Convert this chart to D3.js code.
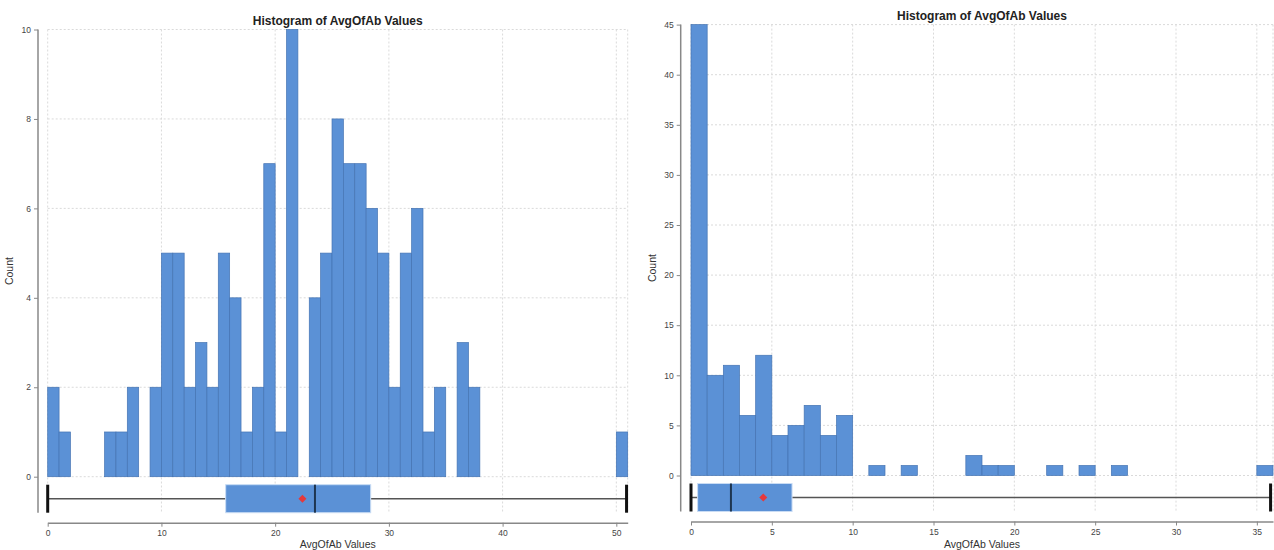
<!DOCTYPE html>
<html>
<head>
<meta charset="utf-8">
<script src="https://cdn.jsdelivr.net/npm/d3@7"></script>
<style>
  body { margin: 0; background: #fff; }
  svg { display: block; font-family: "Liberation Sans", Arial, Helvetica, sans-serif; }
</style>
</head>
<body>
<svg id="chart" width="1274" height="550"></svg>
<script>
// Counts per unit-width bin, index = bin start value
const leftBinCounts = [
  2, 1, 0, 0, 0, 1, 1, 2, 0, 2,
  5, 5, 2, 3, 2, 5, 4, 1, 2, 7,
  1, 10, 0, 4, 5, 8, 7, 7, 6, 5,
  2, 5, 6, 1, 2, 0, 3, 2, 0, 0,
  0, 0, 0, 0, 0, 0, 0, 0, 0, 0,
  1
];
const rightBinCounts = [
  45, 10, 11, 6, 12, 4, 5, 7, 4, 6,
  0, 1, 0, 1, 0, 0, 0, 2, 1, 1,
  0, 0, 1, 0, 1, 0, 1, 0, 0, 0,
  0, 0, 0, 0, 0, 1
];

// Box plot summaries: [min, q1, median, q3, max]
const leftBoxStats = [0, 15.65, 23.5, 28.4, 50.9];
const rightBoxStats = [0, 0.41, 2.47, 6.25, 35.85];
const leftMean = 22.4;
const rightMean = 4.47;

// Tick labels
const leftXTicks = [0, 10, 20, 30, 40, 50];
const leftYTicks = [0, 2, 4, 6, 8, 10];
const rightXTicks = [0, 5, 10, 15, 20, 25, 30, 35];
const rightYTicks = [0, 5, 10, 15, 20, 25, 30, 35, 40, 45];

const chartTitle = "Histogram of AvgOfAb Values";
const xTitle = "AvgOfAb Values";
const yTitle = "Count";

const BAR = "#5b91d6";
const svg = d3.select("#chart");

function drawPanel(cfg) {
  const x = d3.scaleLinear().domain([0, cfg.counts.length]).range(cfg.xRange);
  const y = d3.scaleLinear().domain([0, cfg.yMax]).range([cfg.y0, cfg.yTop]);
  const boxTop = cfg.y0 + 8, boxBot = cfg.y0 + 36, boxMid = (boxTop + boxBot) / 2;
  const axisY = cfg.y0 + 46;
  const g = svg.append("g");

  // dotted grid
  const grid = g.append("g").attr("stroke", "#dadada").attr("stroke-dasharray", "2,2").attr("stroke-width", 1);
  grid.selectAll("line.h").data(cfg.yTicks).join("line").attr("class", "h")
    .attr("x1", cfg.xRange[0]).attr("x2", cfg.xRange[1])
    .attr("y1", d => y(d)).attr("y2", d => y(d));
  grid.selectAll("line.v").data(cfg.xTicks.concat([cfg.counts.length])).join("line").attr("class", "v")
    .attr("x1", d => x(d)).attr("x2", d => x(d))
    .attr("y1", cfg.yTop).attr("y2", boxBot);

  // histogram bars
  const bins = cfg.counts.map((c, i) => ({ x0: i, x1: i + 1, c })).filter(d => d.c > 0);
  g.append("g").selectAll("rect").data(bins).join("rect")
    .attr("x", d => x(d.x0)).attr("width", d => x(d.x1) - x(d.x0))
    .attr("y", d => y(d.c)).attr("height", d => y(0) - y(d.c))
    .attr("fill", BAR).attr("stroke", "#4574b3").attr("stroke-width", 0.7);

  // box plot
  const [mn, q1, med, q3, mx] = cfg.box;
  const bp = g.append("g");
  bp.append("line").attr("x1", x(mn)).attr("x2", x(q1)).attr("y1", boxMid).attr("y2", boxMid)
    .attr("stroke", "#555").attr("stroke-width", 1.5);
  bp.append("line").attr("x1", x(q3)).attr("x2", x(mx)).attr("y1", boxMid).attr("y2", boxMid)
    .attr("stroke", "#555").attr("stroke-width", 1.5);
  bp.selectAll("line.cap").data([mn, mx]).join("line").attr("class", "cap")
    .attr("x1", d => x(d)).attr("x2", d => x(d)).attr("y1", boxTop).attr("y2", boxBot)
    .attr("stroke", "#111").attr("stroke-width", 3);
  bp.append("rect").attr("x", x(q1)).attr("width", x(q3) - x(q1))
    .attr("y", boxTop).attr("height", boxBot - boxTop)
    .attr("fill", BAR).attr("stroke", "#c9dcf4").attr("stroke-width", 1);
  bp.append("line").attr("x1", x(med)).attr("x2", x(med)).attr("y1", boxTop).attr("y2", boxBot)
    .attr("stroke", "#1e3550").attr("stroke-width", 2);
  bp.append("path").attr("d", d3.symbol().type(d3.symbolSquare).size(32)())
    .attr("transform", `translate(${x(cfg.mean)},${boxMid}) rotate(45)`)
    .attr("fill", "#e5383b");

  // y axis
  const ya = g.append("g").attr("transform", `translate(${cfg.yAxisX},0)`)
    .call(d3.axisLeft(y).tickValues(cfg.yTicks).tickSize(4).tickPadding(3));
  ya.select(".domain").remove();
  ya.append("line").attr("x1", 0).attr("x2", 0).attr("y1", cfg.yTop).attr("y2", boxBot)
    .attr("stroke", "#888").attr("stroke-width", 1.5);
  ya.selectAll(".tick line").attr("stroke", "#888");
  ya.selectAll(".tick text").attr("fill", "#444").style("font-size", "8.5px");

  // x axis
  const xa = g.append("g").attr("transform", `translate(0,${axisY})`)
    .call(d3.axisBottom(x).tickValues(cfg.xTicks).tickSizeInner(4).tickSizeOuter(0).tickPadding(3));
  xa.select(".domain").attr("stroke", "#888").attr("stroke-width", 1.5);
  xa.selectAll(".tick line").attr("stroke", "#888");
  xa.selectAll(".tick text").attr("fill", "#444").style("font-size", "8.5px");

  // titles
  const cx = (cfg.xRange[0] + cfg.xRange[1]) / 2;
  g.append("text").attr("x", cx).attr("y", cfg.yTop - 5).attr("text-anchor", "middle")
    .attr("font-weight", "bold").attr("font-size", 12).attr("fill", "#222").text(chartTitle);
  g.append("text").attr("x", cx).attr("y", 548).attr("text-anchor", "middle")
    .attr("font-size", 10.5).attr("fill", "#333").text(xTitle);
  g.append("text").attr("transform", `translate(${cfg.yAxisX - 25},${(cfg.yTop + boxBot) / 2}) rotate(-90)`)
    .attr("text-anchor", "middle").attr("font-size", 10.5).attr("fill", "#333").text(yTitle);
}

drawPanel({
  counts: leftBinCounts, box: leftBoxStats, mean: leftMean,
  xTicks: leftXTicks, yTicks: leftYTicks, yMax: 10,
  xRange: [47.7, 627.7], y0: 476.7, yTop: 29.5, yAxisX: 38
});
drawPanel({
  counts: rightBinCounts, box: rightBoxStats, mean: rightMean,
  xTicks: rightXTicks, yTicks: rightYTicks, yMax: 45,
  xRange: [691, 1273], y0: 475.5, yTop: 24.6, yAxisX: 680.7
});
</script>
</body>
</html>
